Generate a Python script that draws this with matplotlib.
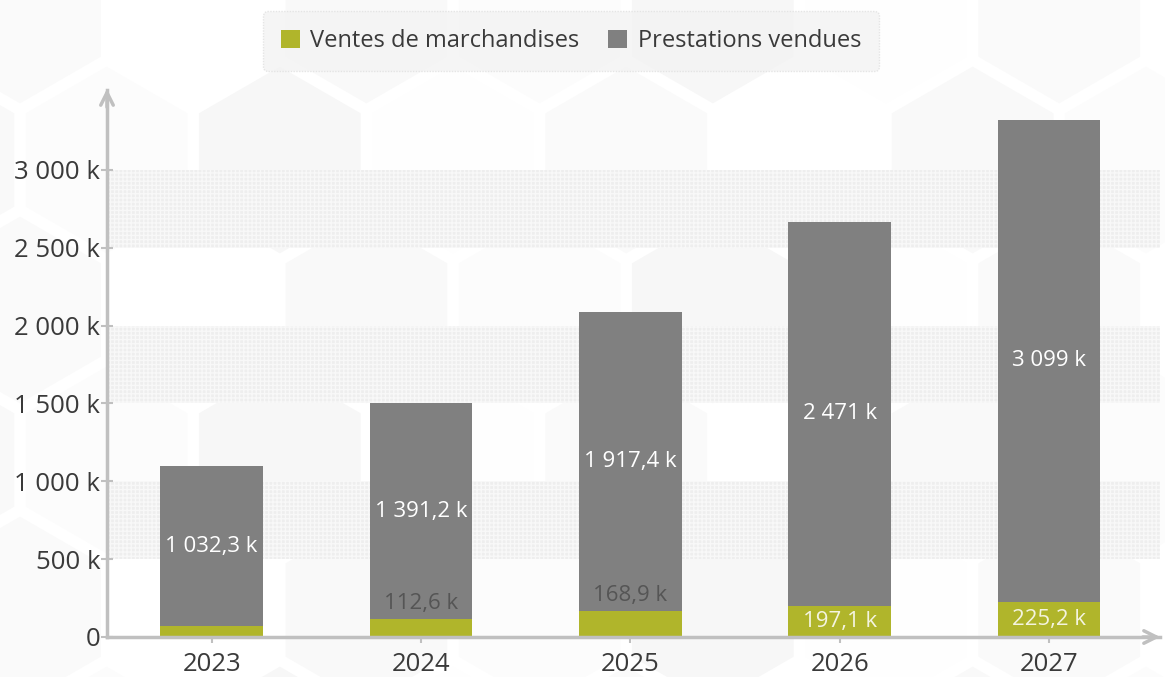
import matplotlib
matplotlib.use("Agg")
import matplotlib.pyplot as plt
from matplotlib.patches import RegularPolygon
import numpy as np

years = ["2023", "2024", "2025", "2026", "2027"]
marchandises = [68.0, 112.6, 168.9, 197.1, 225.2]
prestations = [1032.3, 1391.2, 1917.4, 2471.0, 3099.0]
march_labels = [None, "112,6 k", "168,9 k", "197,1 k", "225,2 k"]
prest_labels = ["1 032,3 k", "1 391,2 k", "1 917,4 k", "2 471 k", "3 099 k"]
yticks = [0, 500, 1000, 1500, 2000, 2500, 3000]
ytick_labels = ["0", "500 k", "1 000 k", "1 500 k", "2 000 k", "2 500 k", "3 000 k"]
series_names = ["Ventes de marchandises", "Prestations vendues"]

GREEN = "#b0b52b"
GREY = "#808080"
AXIS = "#c0c0c0"
TXT = "#3a3a3a"

plt.rcParams['font.family'] = ['Open Sans', 'DejaVu Sans']

W, H = 1165, 677
fig = plt.figure(figsize=(W / 100, H / 100), dpi=100)
fig.patch.set_facecolor("white")

# very faint hexagon background
bg = fig.add_axes([0, 0, 1, 1], zorder=-5)
bg.set_xlim(0, W)
bg.set_ylim(H, 0)
bg.axis("off")
r = 100
dx = r * np.sqrt(3)
shades = ["#f9f9f9", "#fcfcfc", "#f7f7f7", "#fefefe", "#fafafa", "#ffffff"]
k = 0
for row in range(-1, 6):
    for col in range(-1, 8):
        cx = col * dx + (dx / 2 if row % 2 else 0) + 20
        cy = row * 1.5 * r + 10
        bg.add_patch(RegularPolygon((cx, cy), 6, radius=r - 5, orientation=0,
                                    facecolor=shades[k % len(shades)],
                                    edgecolor="white", lw=2))
        k += 1

left_px, right_px, top_px, bot_px = 107, 1160, 90, 637
ax = fig.add_axes([left_px / W, 1 - bot_px / H, (right_px - left_px) / W, (bot_px - top_px) / H])
ax.set_facecolor("none")

x = np.arange(len(years))
ymax = (bot_px - top_px) / 0.15567
ax.set_ylim(0, ymax)
ax.set_xlim(-0.5, 4.53)

# bands
for lo, hi in [(500, 1000), (1500, 2000), (2500, 3000)]:
    ax.axhspan(lo, hi, facecolor="#eeeeee", edgecolor="#f8f8f8", hatch="++++", lw=0, zorder=0.5)

bw = 0.49
ax.bar(x, marchandises, bw, color=GREEN, zorder=2, label=series_names[0])
ax.bar(x, prestations, bw, bottom=marchandises, color=GREY, zorder=2, label=series_names[1])

for i in range(len(years)):
    ax.text(x[i], marchandises[i] + prestations[i] / 2, prest_labels[i], ha="center", va="center",
            color="white", fontsize=16, zorder=3)
    lab = march_labels[i]
    if lab is None:
        continue
    if marchandises[i] < 180:
        ax.text(x[i], marchandises[i] + 100, lab, ha="center", va="center",
                color="#555555", fontsize=16, zorder=3)
    else:
        ax.text(x[i], marchandises[i] / 2, lab, ha="center", va="center",
                color="#f4f4e0", fontsize=16, zorder=3)

for s in ["top", "right"]:
    ax.spines[s].set_visible(False)
for s in ["left", "bottom"]:
    ax.spines[s].set_color(AXIS)
    ax.spines[s].set_linewidth(2.5)

ax.set_yticks(yticks)
ax.set_yticklabels(ytick_labels)
ax.set_xticks(x)
ax.set_xticklabels(years)
ax.tick_params(axis="both", colors=AXIS, labelcolor=TXT, labelsize=18.5, direction="inout",
               length=8, width=1.5)
ax.tick_params(axis="y", pad=1)
ax.tick_params(axis="x", pad=7)

# arrow heads
ax.annotate("", xy=(left_px / W, 1 - 86 / H), xytext=(left_px / W, 1 - 110 / H),
            xycoords="figure fraction", textcoords="figure fraction",
            arrowprops=dict(arrowstyle="->,head_length=0.9,head_width=0.45", color=AXIS, lw=2.5))
ax.annotate("", xy=(1163 / W, 1 - bot_px / H), xytext=(1140 / W, 1 - bot_px / H),
            xycoords="figure fraction", textcoords="figure fraction",
            arrowprops=dict(arrowstyle="->,head_length=0.9,head_width=0.45", color=AXIS, lw=2.5))

leg = fig.legend(loc="center", bbox_to_anchor=(571 / W, 1 - 41 / H), ncol=2, frameon=True,
                 fancybox=True, facecolor="#f3f3f3", edgecolor="#e0e0e0", fontsize=17,
                 handlelength=0.8, handleheight=0.8, handletextpad=0.45, columnspacing=1.2,
                 borderpad=0.75, labelcolor=TXT)
leg.get_frame().set_linestyle((0, (1, 1)))
leg.get_frame().set_linewidth(1)

fig.savefig("out.png", dpi=100)
